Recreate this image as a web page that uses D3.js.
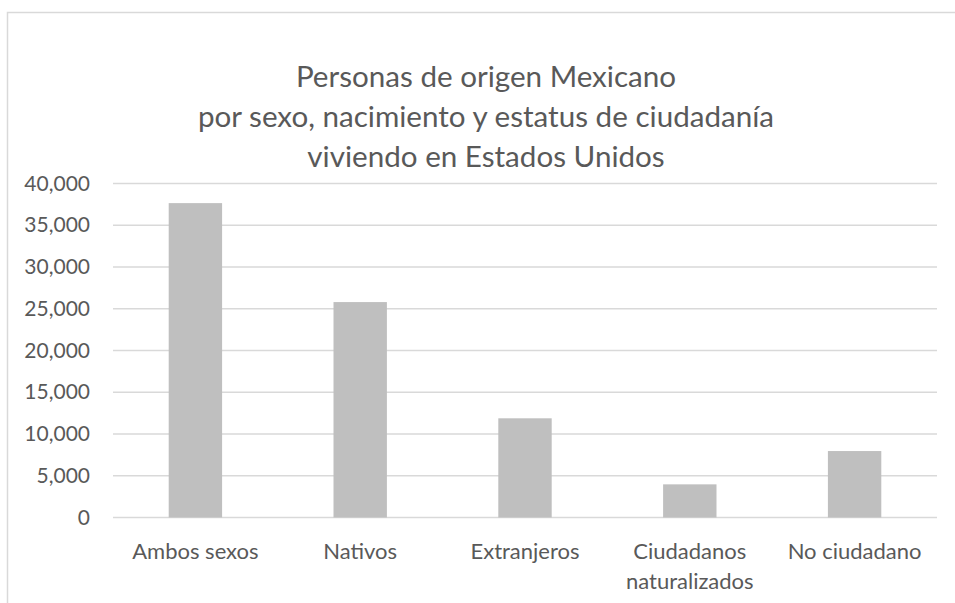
<!DOCTYPE html>
<html>
<head>
<meta charset="utf-8">
<script src="https://cdn.jsdelivr.net/npm/d3@7"></script>
<style>
  body { margin: 0; background: #fff; }
  text { font-family: Lato, 'Open Sans', sans-serif; fill: #595959; }
</style>
</head>
<body>
<div class="canvas"></div>
<script>
const categories = [
  ['Ambos sexos'],
  ['Nativos'],
  ['Extranjeros'],
  ['Ciudadanos', 'naturalizados'],
  ['No ciudadano'],
]
const values = [37650, 25800, 11880, 3970, 7960]
const yTicks = [0, 5000, 10000, 15000, 20000, 25000, 30000, 35000, 40000]
const titleLines = [
  'Personas de origen Mexicano',
  'por sexo, nacimiento y estatus de ciudadanía',
  'viviendo en Estados Unidos',
]

const dims = { width: 955, height: 603 }
const plot = { left: 113, right: 937, top: 183.5, bottom: 517.5 }

const svg = d3
  .select('.canvas')
  .append('svg')
  .attr('width', dims.width)
  .attr('height', dims.height)

// chart frame (only top and left edges are visible in the picture)
svg
  .append('rect')
  .attr('x', 7.5)
  .attr('y', 12.5)
  .attr('width', dims.width + 10)
  .attr('height', dims.height + 10)
  .attr('fill', 'none')
  .attr('stroke', '#d9d9d9')
  .attr('stroke-width', 1.5)

// title
svg
  .append('g')
  .selectAll('text')
  .data(titleLines)
  .enter()
  .append('text')
  .attr('x', 486)
  .attr('y', (d, i) => 87 + i * 40)
  .attr('text-anchor', 'middle')
  .attr('font-size', '29.6px')
  .text((d) => d)

const x = d3
  .scaleBand()
  .domain(categories.map((d) => d.join(' ')))
  .range([plot.left, plot.right])
  .paddingInner(0.676)
  .paddingOuter(0.338)

const y = d3.scaleLinear().domain([0, 40000]).range([plot.bottom, plot.top])

// gridlines
svg
  .append('g')
  .selectAll('line')
  .data(yTicks)
  .enter()
  .append('line')
  .attr('x1', plot.left)
  .attr('x2', plot.right)
  .attr('y1', (d) => y(d))
  .attr('y2', (d) => y(d))
  .attr('stroke', '#d9d9d9')
  .attr('stroke-width', 1.5)

// y axis labels
const yAxis = d3
  .axisLeft(y)
  .tickValues(yTicks)
  .tickSize(0)
  .tickPadding(23)
  .tickFormat(d3.format(','))

svg
  .append('g')
  .attr('transform', `translate(${plot.left}, 0)`)
  .call(yAxis)
  .call((g) => g.select('.domain').remove())
  .selectAll('text')
  .attr('font-size', '21px')
  .attr('fill', '#595959')
  .attr('font-family', null)

// bars
svg
  .append('g')
  .selectAll('rect')
  .data(values)
  .enter()
  .append('rect')
  .attr('x', (d, i) => x(categories[i].join(' ')))
  .attr('y', (d) => y(d))
  .attr('width', x.bandwidth())
  .attr('height', (d) => plot.bottom - y(d))
  .attr('fill', '#bfbfbf')

// category labels, wrapped on two lines where needed
const labels = svg
  .append('g')
  .selectAll('text')
  .data(categories)
  .enter()
  .append('text')
  .attr('text-anchor', 'middle')
  .attr('font-size', '22px')
  .attr('x', (d) => x(d.join(' ')) + x.bandwidth() / 2)
  .attr('y', 559)

labels
  .selectAll('tspan')
  .data((d) => d)
  .enter()
  .append('tspan')
  .attr('x', function () {
    return this.parentNode.getAttribute('x')
  })
  .attr('dy', (d, i) => (i === 0 ? 0 : 30))
  .text((d) => d)
</script>
</body>
</html>
